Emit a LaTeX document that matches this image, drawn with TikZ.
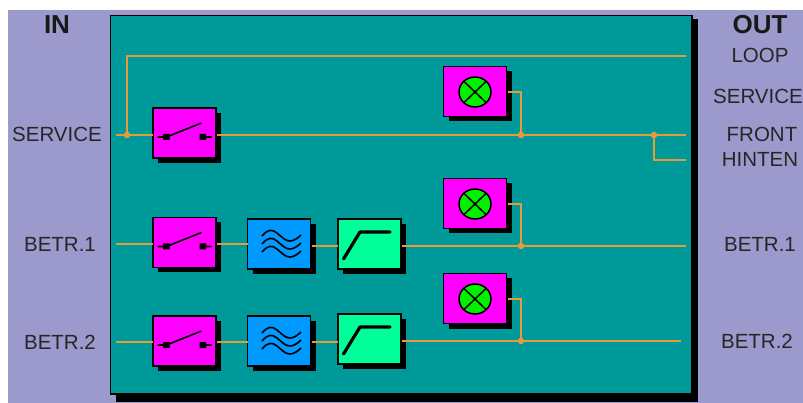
\documentclass[tikz,border=0pt]{standalone}
\usepackage{fontspec}
\setmainfont{Liberation Sans}
\usetikzlibrary{shadows,calc}
\definecolor{lav}{HTML}{9C9ACC}
\definecolor{teal2}{HTML}{009999}
\definecolor{mag}{HTML}{FF00FF}
\definecolor{blue2}{HTML}{0099FF}
\definecolor{mint}{HTML}{00FF99}
\definecolor{lampg}{HTML}{00F000}
\definecolor{wire}{HTML}{E89A38}
\tikzset{
  x=1pt,y=-1pt,
  blockbox/.style={draw=black,line width=1.6pt,inner sep=0pt,outer sep=0pt,minimum width=63pt,minimum height=50pt,
     drop shadow={shadow xshift=5pt,shadow yshift=-5pt,fill=black,opacity=1}},
  swbox/.style={blockbox,fill=mag},
  filtbox/.style={blockbox,fill=blue2},
  limbox/.style={blockbox,fill=mint},
  lampbox/.style={blockbox,fill=mag},
  wireline/.style={draw=wire,line width=1.7pt},
  junction/.style={circle,fill=wire,inner sep=0pt,minimum size=6.5pt},
  lab/.style={font=\fontsize{20.5}{21}\selectfont,text=black!85,inner sep=0pt},
  hd/.style={font=\fontsize{26}{26}\selectfont\bfseries,text=black!90,inner sep=0pt},
  icon/.style={black,line width=1.6pt},
  pics/swicon/.style={code={
    \draw[icon] (-27,4) -- (-15,4) (-18,4) -- (17,-10) (18,4) -- (27,4);
    \fill[black] (-21.5,1) rectangle (-15,7) (15,1) rectangle (21.5,7);
  }},
  pics/waveicon/.style={code={
    \foreach \d in {-1,7,15}
      \draw[icon] (-17,-7+\d) .. controls (-11,-14+\d) and (-7,-14+\d) .. (-2,-10+\d)
         .. controls (3,-6+\d) and (6,-2+\d) .. (11,-2+\d) .. controls (15,-2+\d) and (19,-5+\d) .. (22,-8+\d);
  }},
  pics/limicon/.style={code={
    \draw[black,line width=3.2pt,line join=round,line cap=round] (-26,15) -- (-9.5,-12) -- (20.5,-12);
  }},
  pics/lampicon/.style={code={
    \draw[black,line width=1.5pt,fill=lampg] (0,0.5) ellipse [x radius=16,y radius=15];
    \draw[black,line width=1.5pt] (-11,-10) -- (11,11) (-11,11) -- (11,-10);
  }},
}
\begin{document}
\begin{tikzpicture}
\useasboundingbox (0,0) rectangle (803,403);
\fill[white] (0,0) rectangle (803,403);
\fill[lav] (8,10) rectangle (803,403);
\fill[black] (116,19) rectangle (698,402);
\draw[black,line width=1.2pt,fill=teal2] (110.5,15.5) rectangle (692,394);

% labels
\node[hd] (inhd) at (57,25) {IN};
\node[hd] (outhd) at (760,25) {OUT};
\node[lab] (oloop) at (760,55) {LOOP};
\node[lab] (oserv) at (758,96) {SERVICE};
\node[lab] (ofront) at (762,134) {FRONT};
\node[lab] (ohint) at (760,159) {HINTEN};
\node[lab] (obet1) at (760,244) {BETR.1};
\node[lab] (obet2) at (757,341) {BETR.2};
\node[lab] (iserv) at (57,134) {SERVICE};
\node[lab] (ibet1) at (60,244) {BETR.1};
\node[lab] (ibet2) at (60,342) {BETR.2};

% blocks
\node[swbox] (sw0) at (184.5,133) {};
\node[swbox] (sw1) at (184.5,242.5) {};
\node[swbox] (sw2) at (184.5,341) {};
\node[filtbox] (fl1) at (279,244) {};
\node[filtbox] (fl2) at (279,341) {};
\node[limbox] (lm1) at (369.5,244) {};
\node[limbox] (lm2) at (369.5,339) {};
\node[lampbox] (lp0) at (475,91.5) {};
\node[lampbox] (lp1) at (475,203.5) {};
\node[lampbox] (lp2) at (475,298.5) {};

\pic at (sw0) {swicon};
\pic at (sw1) {swicon};
\pic at (sw2) {swicon};
\pic at (fl1) {waveicon};
\pic at (fl2) {waveicon};
\pic at (lm1) {limicon};
\pic at (lm2) {limicon};
\pic at (lp0) {lampicon};
\pic at (lp1) {lampicon};
\pic at (lp2) {lampicon};

% free ends
\coordinate (in0) at (116,135);
\coordinate (in1) at (116,244);
\coordinate (in2) at (116,342);
\coordinate (out0) at (686,135);
\coordinate (outh) at (686,160);
\coordinate (outl) at (686,56);
\coordinate (out1) at (686,246);
\coordinate (out2) at (681,341);
\coordinate (corner) at (127,56);
\node[junction] (j0) at (127,135) {};
\node[junction] (j1) at (654,135) {};
\node[junction] (ja) at (521,135) {};
\node[junction] (jb) at (521,246) {};
\node[junction] (jc) at (521,341) {};

% wires
\draw[wireline] (in0) -- (in0 -| sw0.west);
\draw[wireline] (j0) -- (corner) -- (outl);
\draw[wireline] (out0 -| sw0.east) ++(1,0) -- (out0);
\draw[wireline] (j1) |- (outh);
\draw[wireline] (in1) -- (in1 -| sw1.west);
\draw[wireline] (in1 -| sw1.east) ++(1,0) -- (in1 -| fl1.west);
\draw[wireline] (out1 -| fl1.east) ++(1,0) -- (out1 -| lm1.west);
\draw[wireline] (out1 -| lm1.east) ++(1,0) -- (out1);
\draw[wireline] (in2) -- (in2 -| sw2.west);
\draw[wireline] (in2 -| sw2.east) ++(1,0) -- (in2 -| fl2.west);
\draw[wireline] (in2 -| fl2.east) ++(1,0) -- (in2 -| lm2.west);
\draw[wireline] (out2 -| lm2.east) ++(1,0) -- (out2);
\draw[wireline] ($(lp0.east)+(1,0.5)$) -| (ja);
\draw[wireline] ($(lp1.east)+(1,0.5)$) -| (jb);
\draw[wireline] ($(lp2.east)+(1,0.5)$) -| (jc);
\end{tikzpicture}
\end{document}
